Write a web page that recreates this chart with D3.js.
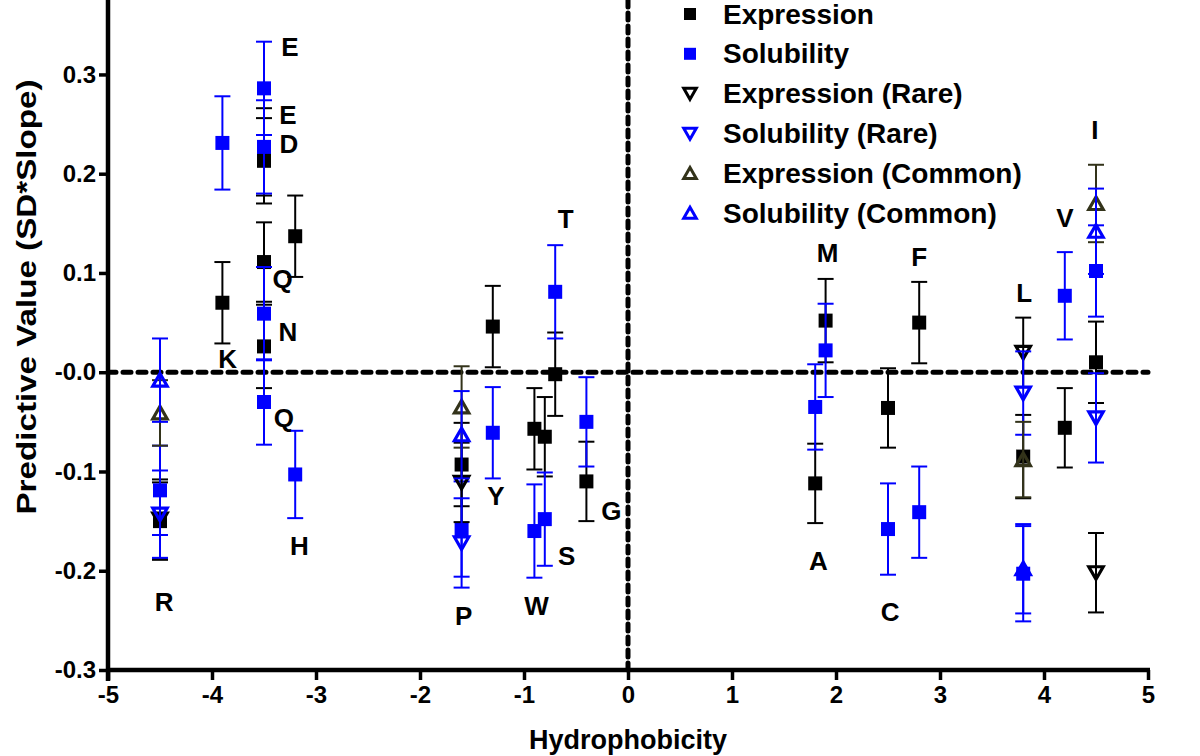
<!DOCTYPE html>
<html>
<head>
<meta charset="utf-8">
<script src="https://cdn.jsdelivr.net/npm/d3@7"></script>
<style>
  html, body { margin: 0; padding: 0; background: #ffffff; }
  svg { display: block; font-family: "Liberation Sans", Arial, sans-serif; font-weight: bold; }
</style>
</head>
<body>
<svg id="chart" width="1200" height="756"></svg>
<script>
// ---- data ----
const residues       = ["R","K","E","D","Q","N","H","P","Y","W","S","T","G","A","M","C","F","L","V","I"];
const hydrophobicity = [-4.5,-3.9,-3.5,-3.5,-3.5,-3.5,-3.2,-1.6,-1.3,-0.9,-0.8,-0.7,-0.4,1.8,1.9,2.5,2.8,3.8,4.2,4.5];
const expression     = [-0.150,0.070,0.213,0.222,0.111,0.026,0.137,-0.093,0.046,-0.057,-0.065,-0.002,-0.110,-0.112,0.052,-0.036,0.050,-0.085,-0.056,0.010];
const expressionErr  = [0.039,0.041,0.043,0.044,0.040,0.042,0.041,0.042,0.041,0.041,0.040,0.042,0.040,0.040,0.042,0.040,0.041,0.042,0.040,0.041];
const solubility     = [-0.119,0.231,0.286,0.227,-0.030,0.059,-0.103,-0.158,-0.061,-0.160,-0.148,0.081,-0.050,-0.035,0.022,-0.158,-0.141,-0.203,0.077,0.102];
const solubilityErr  = [0.045,0.047,0.047,0.047,0.043,0.047,0.044,0.048,0.046,0.047,0.047,0.047,0.045,0.043,0.047,0.046,0.046,0.048,0.044,0.046];

const codonResidues      = ["R","P","L","I"];
const codonHydro         = [-4.5,-1.6,3.8,4.5];
const expressionRare     = [-0.148,-0.111,0.020,-0.202];
const expressionRareErr  = [0.040,0.040,0.035,0.040];
const solubilityRare     = [-0.143,-0.172,-0.021,-0.046];
const solubilityRareErr  = [0.044,0.045,0.042,0.045];
const expressionCommon   = [-0.041,-0.035,-0.088,0.170];
const expressionCommonErr= [0.033,0.041,0.038,0.039];
const solubilityCommon   = [-0.008,-0.063,-0.198,0.142];
const solubilityCommonErr= [0.042,0.044,0.045,0.043];

const labelLetters = ["E","E","D","Q","N","K","Q","H","R","P","Y","W","S","G","T","A","M","F","C","L","V","I"];
const labelX       = [-3.25,-3.27,-3.26,-3.32,-3.27,-3.85,-3.31,-3.16,-4.46,-1.58,-1.27,-0.88,-0.59,-0.16,-0.60,1.83,1.92,2.80,2.52,3.81,4.20,4.49];
const labelY       = [0.328,0.259,0.230,0.094,0.041,0.013,-0.046,-0.175,-0.231,-0.246,-0.125,-0.236,-0.185,-0.140,0.154,-0.190,0.120,0.116,-0.242,0.080,0.155,0.244];

const xTicks = [-5,-4,-3,-2,-1,0,1,2,3,4,5];
const yTicks = [-0.3,-0.2,-0.1,0,0.1,0.2,0.3];

const legendLabels = ["Expression","Solubility","Expression (Rare)","Solubility (Rare)","Expression (Common)","Solubility (Common)"];

// ---- setup ----
const svg = d3.select("#chart");
const x = d3.scaleLinear().domain([-5, 5]).range([108, 1148]);
const y = d3.scaleLinear().domain([-0.3, 0.375]).range([670, 0]);

const BLACK = "#000000", BLUE = "#0000ff", OLIVE = "#33331a";
const hyphen = s => s.replace(/\u2212/g, "-");

// triangle symbol types (centered on bounding box)
const triUp = { draw(ctx, size) { const h = Math.sqrt(size); ctx.moveTo(0, -h*0.55); ctx.lineTo(h*0.6, h*0.5); ctx.lineTo(-h*0.6, h*0.5); ctx.closePath(); } };
const triDown = { draw(ctx, size) { const h = Math.sqrt(size); ctx.moveTo(0, h*0.55); ctx.lineTo(h*0.6, -h*0.5); ctx.lineTo(-h*0.6, -h*0.5); ctx.closePath(); } };

const series = [
  { name: legendLabels[0], xs: hydrophobicity, v: expression, e: expressionErr, color: BLACK, type: d3.symbolSquare, size: 196, fill: true },
  { name: legendLabels[1], xs: hydrophobicity, v: solubility, e: solubilityErr, color: BLUE, type: d3.symbolSquare, size: 196, fill: true },
  { name: legendLabels[2], xs: codonHydro, v: expressionRare, e: expressionRareErr, color: BLACK, type: triDown, size: 144, fill: false },
  { name: legendLabels[3], xs: codonHydro, v: solubilityRare, e: solubilityRareErr, color: BLUE, type: triDown, size: 144, fill: false },
  { name: legendLabels[4], xs: codonHydro, v: expressionCommon, e: expressionCommonErr, color: OLIVE, type: triUp, size: 144, fill: false },
  { name: legendLabels[5], xs: codonHydro, v: solubilityCommon, e: solubilityCommonErr, color: BLUE, type: triUp, size: 144, fill: false }
];

// ---- reference dashed lines ----
svg.append("line")
  .attr("x1", x(-5)).attr("x2", x(5)).attr("y1", y(0)).attr("y2", y(0))
  .attr("stroke", BLACK).attr("stroke-width", 5).attr("stroke-dasharray", "8,7").attr("stroke-linecap", "round");
svg.append("line")
  .attr("x1", x(0)).attr("x2", x(0)).attr("y1", y(0.375)).attr("y2", y(-0.3))
  .attr("stroke", BLACK).attr("stroke-width", 5).attr("stroke-dasharray", "7,6").attr("stroke-linecap", "round");

// ---- axes ----
const yAxis = d3.axisLeft(y).tickValues(yTicks).tickSize(9).tickSizeOuter(0).tickPadding(3)
  .tickFormat(d => Math.abs(d) < 1e-9 ? "-0.0" : hyphen(d3.format(".1f")(d)));
const gy = svg.append("g").attr("transform", `translate(${x(-5)},0)`).call(yAxis);
gy.select(".domain").attr("stroke-width", 4.5).attr("d", `M0,${y(0.375)}V${y(-0.3) + 11}`);
gy.selectAll(".tick line").attr("stroke-width", 3.5);
gy.selectAll(".tick text").attr("font-size", 24).attr("font-weight", "bold").attr("fill", BLACK)
  .attr("font-family", "'Liberation Sans', Arial, sans-serif");

const xAxis = d3.axisBottom(x).tickValues(xTicks).tickSize(10).tickSizeOuter(0).tickPadding(6)
  .tickFormat(d => hyphen(d3.format("d")(d)));
const gx = svg.append("g").attr("transform", `translate(0,${y(-0.3)})`).call(xAxis);
gx.select(".domain").attr("stroke-width", 4.5).attr("d", `M${x(-5) - 2},0H${x(5) + 2}`);
gx.selectAll(".tick line").attr("stroke-width", 3.5);
gx.selectAll(".tick text").attr("font-size", 24).attr("font-weight", "bold").attr("fill", BLACK)
  .attr("font-family", "'Liberation Sans', Arial, sans-serif");

// ---- axis titles ----
svg.append("text")
  .attr("x", x(0)).attr("y", 749).attr("text-anchor", "middle")
  .attr("font-size", 27).attr("font-weight", "bold").text("Hydrophobicity");
svg.append("text")
  .attr("transform", `translate(36,${297}) rotate(-90)`).attr("text-anchor", "middle")
  .attr("font-size", 28).attr("font-weight", "bold")
  .attr("textLength", 435).attr("lengthAdjust", "spacingAndGlyphs")
  .text("Predictive Value (SD*Slope)");

// ---- series ----
const capHalf = 8;
series.forEach(s => {
  const g = svg.append("g");
  const pts = s.v.map((v, i) => ({ x: s.xs[i], v, e: s.e[i] }));
  const bars = g.selectAll("g.bar").data(pts).enter().append("g").attr("class", "bar")
    .attr("stroke", s.color).attr("stroke-width", 2);
  bars.append("line").attr("x1", d => x(d.x)).attr("x2", d => x(d.x)).attr("y1", d => y(d.v + d.e)).attr("y2", d => y(d.v - d.e));
  bars.append("line").attr("x1", d => x(d.x) - capHalf).attr("x2", d => x(d.x) + capHalf).attr("y1", d => y(d.v + d.e)).attr("y2", d => y(d.v + d.e));
  bars.append("line").attr("x1", d => x(d.x) - capHalf).attr("x2", d => x(d.x) + capHalf).attr("y1", d => y(d.v - d.e)).attr("y2", d => y(d.v - d.e));
  g.selectAll("path.pt").data(pts).enter().append("path").attr("class", "pt")
    .attr("transform", d => `translate(${x(d.x)},${y(d.v)})`)
    .attr("d", d3.symbol().type(s.type).size(s.size))
    .attr("fill", s.fill ? s.color : "none")
    .attr("stroke", s.fill ? "none" : s.color)
    .attr("stroke-width", 3.2);
});

// ---- residue letters ----
svg.append("g").selectAll("text").data(labelLetters).enter().append("text")
  .attr("x", (d, i) => x(labelX[i])).attr("y", (d, i) => y(labelY[i]))
  .attr("text-anchor", "middle").attr("dominant-baseline", "central")
  .attr("font-size", 26).attr("font-weight", "bold").attr("fill", BLACK)
  .text(d => d);

// ---- legend ----
const legend = svg.append("g").attr("transform", "translate(690,14)");
const rows = legend.selectAll("g").data(series).enter().append("g")
  .attr("transform", (d, i) => `translate(0,${i * 39.8})`);
rows.append("path")
  .attr("d", d => d3.symbol().type(d.type).size(d.fill ? 144 : 110)())
  .attr("fill", d => d.fill ? d.color : "none")
  .attr("stroke", d => d.fill ? "none" : d.color)
  .attr("stroke-width", 3);
rows.append("text").attr("x", 33).attr("y", 0).attr("dominant-baseline", "central")
  .attr("font-size", 28).attr("font-weight", "bold").attr("fill", BLACK)
  .text(d => d.name);
</script>
</body>
</html>
